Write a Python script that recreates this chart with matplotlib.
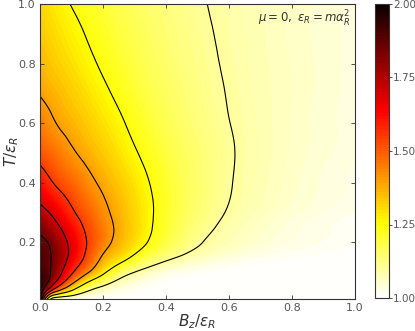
import numpy as np
import matplotlib
matplotlib.use("Agg")
import matplotlib.pyplot as plt
import matplotlib.tri as mtri

# Grid (B_z/eps_R along x, T/eps_R along y)
B_values = [0.0, 0.02, 0.05, 0.1, 0.15, 0.2, 0.25, 0.3, 0.4, 0.5, 0.6, 0.7, 0.85, 1.0]
T_values = [0.01, 0.05, 0.1, 0.15, 0.2, 0.25, 0.3, 0.4, 0.5, 0.6, 0.7, 0.8, 0.9, 1.0]

# Estimated field values, one row per temperature
row_T001 = [1.99, 1.30, 1.02, 1.0, 1.0, 1.0, 1.0, 1.0, 1.0, 1.0, 1.0, 1.0, 1.0, 1.0]
row_T005 = [1.97, 1.81, 1.58, 1.34, 1.169, 1.088, 1.046, 1.024, 1.006, 1.002, 1.0, 1.0, 1.0, 1.0]
row_T010 = [1.94, 1.89, 1.786, 1.571, 1.415, 1.277, 1.166, 1.10, 1.036, 1.013, 1.005, 1.002, 1.0, 1.0]
row_T015 = [1.90, 1.875, 1.817, 1.66, 1.52, 1.385, 1.306, 1.229, 1.123, 1.068, 1.036, 1.019, 1.008, 1.003]
row_T020 = [1.875, 1.857, 1.793, 1.666, 1.546, 1.446, 1.365, 1.301, 1.185, 1.108, 1.070, 1.045, 1.023, 1.012]
row_T025 = [1.826, 1.787, 1.729, 1.625, 1.527, 1.449, 1.378, 1.317, 1.204, 1.128, 1.083, 1.054, 1.027, 1.014]
row_T030 = [1.745, 1.715, 1.663, 1.569, 1.495, 1.427, 1.368, 1.314, 1.212, 1.141, 1.095, 1.065, 1.036, 1.020]
row_T040 = [1.615, 1.583, 1.539, 1.485, 1.430, 1.381, 1.336, 1.292, 1.208, 1.147, 1.104, 1.075, 1.045, 1.027]
row_T050 = [1.51, 1.491, 1.462, 1.414, 1.373, 1.335, 1.296, 1.258, 1.192, 1.143, 1.106, 1.078, 1.050, 1.032]
row_T060 = [1.45, 1.430, 1.401, 1.366, 1.332, 1.298, 1.264, 1.230, 1.175, 1.133, 1.101, 1.077, 1.051, 1.034]
row_T070 = [1.395, 1.382, 1.363, 1.331, 1.298, 1.266, 1.235, 1.207, 1.161, 1.125, 1.097, 1.076, 1.052, 1.035]
row_T080 = [1.36, 1.348, 1.329, 1.299, 1.268, 1.239, 1.212, 1.189, 1.149, 1.118, 1.093, 1.074, 1.052, 1.036]
row_T090 = [1.335, 1.323, 1.305, 1.274, 1.245, 1.219, 1.196, 1.175, 1.140, 1.112, 1.090, 1.072, 1.051, 1.036]
row_T100 = [1.315, 1.301, 1.281, 1.247, 1.223, 1.200, 1.180, 1.162, 1.132, 1.107, 1.086, 1.070, 1.051, 1.037]

contour_levels = [1.1, 1.25, 1.4, 1.55, 1.7, 1.85]
cbar_ticks = [1.00, 1.25, 1.50, 1.75, 2.00]
x_ticks = [0.0, 0.2, 0.4, 0.6, 0.8, 1.0]
y_ticks = [0.2, 0.4, 0.6, 0.8, 1.0]

rows = [row_T001, row_T005, row_T010, row_T015, row_T020, row_T025, row_T030,
        row_T040, row_T050, row_T060, row_T070, row_T080, row_T090, row_T100]
Z = np.array(rows)
BB, TT = np.meshgrid(B_values, T_values)

# structured triangulation of the rectangular grid (consistent diagonals)
nB, nT = len(B_values), len(T_values)
tris = []
for i in range(nT - 1):
    for j in range(nB - 1):
        p00 = i * nB + j
        p01 = p00 + 1
        p10 = p00 + nB
        p11 = p10 + 1
        tris.append([p00, p01, p11])
        tris.append([p00, p11, p10])
tri = mtri.Triangulation(BB.ravel(), TT.ravel(), triangles=np.array(tris))
interp = mtri.CubicTriInterpolator(tri, Z.ravel(), kind='min_E')
bf = np.linspace(B_values[0], B_values[-1], 400)
tf = np.linspace(T_values[0], T_values[-1], 400)
BF, TF = np.meshgrid(bf, tf)
ZF = np.clip(np.ma.filled(interp(BF, TF), 1.0), 1.0, 1.9999)

W, H = 415, 331
fig = plt.figure(figsize=(W / 100, H / 100), dpi=100)
ax = fig.add_axes([40 / W, (H - 299) / H, 315 / W, 295 / H])
cax = fig.add_axes([375 / W, (H - 298) / H, 14 / W, 294 / H])

cf = ax.contourf(BF, TF, ZF, levels=np.linspace(1.0, 2.0, 101), cmap='hot_r',
                 vmin=1.0, vmax=2.0)
ax.contour(BF, TF, ZF, levels=contour_levels, colors='k', linewidths=0.8)

ax.set_xlim(0.0, 1.0)
ax.set_ylim(0.01, 1.0)
ax.set_xticks(x_ticks)
ax.set_yticks(y_ticks)
ax.set_xticklabels([f"{v:.1f}" for v in x_ticks])
ax.set_yticklabels([f"{v:.1f}" for v in y_ticks])
ax.tick_params(direction='in', top=True, right=True, labelsize=8, pad=3,
               labelcolor='#555555', color='#333333', length=3, width=0.6)
for s in ax.spines.values():
    s.set_color('#333333')
    s.set_linewidth(0.8)
ax.set_xlabel(r'$B_z/\epsilon_R$', fontsize=11, color='#333333')
ax.set_ylabel(r'$T/\epsilon_R$', fontsize=11, color='#333333')
ax.xaxis.set_label_coords(0.5, -0.045)
ax.yaxis.set_label_coords(-0.06, 0.5)
ax.text(0.985, 0.985, r'$\mu=0,\ \epsilon_R=m\alpha_R^2$', transform=ax.transAxes,
        ha='right', va='top', fontsize=8.5, color='#333333')

cb = fig.colorbar(cf, cax=cax, ticks=cbar_ticks, format='%.2f')
cb.ax.tick_params(labelsize=7.5, labelcolor='#555555', color='#333333', length=2,
                  width=0.6, pad=1)
cb.outline.set_edgecolor('#333333')
cb.outline.set_linewidth(0.8)

fig.savefig('out.png', dpi=100)
